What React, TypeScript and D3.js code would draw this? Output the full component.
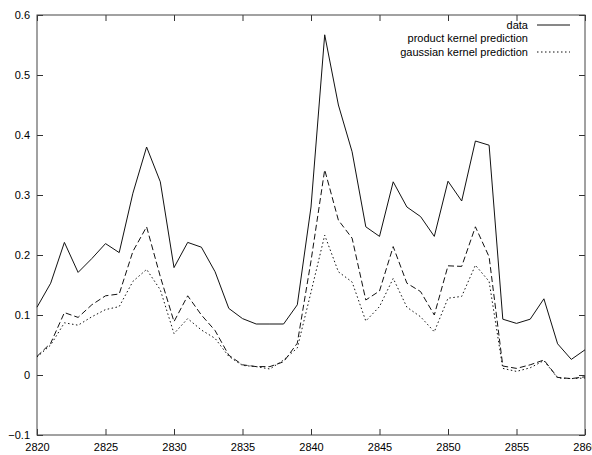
import React, {useRef, useEffect} from 'react'
import * as d3 from 'd3'

// x positions 2820..2860, one value per step
const xs: number[] = d3.range(2820, 2861)

const dataSeries: number[] = [
  0.113, 0.153, 0.221, 0.171, 0.194, 0.219, 0.204, 0.303, 0.38, 0.322,
  0.179, 0.221, 0.213, 0.172, 0.111, 0.094, 0.085, 0.085, 0.085, 0.117,
  0.28, 0.567, 0.45, 0.372, 0.247, 0.231, 0.322, 0.28, 0.264, 0.231,
  0.323, 0.29, 0.39, 0.383, 0.093, 0.086, 0.093, 0.127, 0.052, 0.026,
  0.042,
]

const productKernel: number[] = [
  0.031, 0.053, 0.104, 0.096, 0.117, 0.132, 0.135, 0.206, 0.247, 0.164,
  0.089, 0.132, 0.1, 0.074, 0.033, 0.017, 0.014, 0.014, 0.022, 0.053,
  0.19, 0.342, 0.258, 0.228, 0.125, 0.14, 0.214, 0.153, 0.139, 0.1,
  0.182, 0.181, 0.247, 0.197, 0.015, 0.011, 0.017, 0.025, -0.004, -0.006,
  -0.003,
]

const gaussianKernel: number[] = [
  0.03, 0.05, 0.087, 0.083, 0.097, 0.109, 0.114, 0.156, 0.176, 0.142,
  0.069, 0.094, 0.075, 0.061, 0.031, 0.016, 0.014, 0.01, 0.025, 0.045,
  0.138, 0.233, 0.172, 0.155, 0.09, 0.114, 0.161, 0.113, 0.097, 0.072,
  0.128, 0.131, 0.183, 0.156, 0.011, 0.006, 0.012, 0.024, -0.005, -0.006,
  -0.005,
]

const xTicks: number[] = [2820, 2825, 2830, 2835, 2840, 2845, 2850, 2855, 2860]
const yTicks: number[] = [-0.1, 0, 0.1, 0.2, 0.3, 0.4, 0.5, 0.6]

const legendLabels: string[] = ['data', 'product kernel prediction', 'gaussian kernel prediction']

const W = 592
const H = 455
const FONT = '"Liberation Sans", Arial, Helvetica, sans-serif'

function Chart() {
  const ref: any = useRef<SVGSVGElement>(null)

  useEffect(() => {
    const svg = d3.select(ref.current)
    svg.selectAll('*').remove()

    const x = d3.scaleLinear().domain([2820, 2860]).range([37, 585])
    const y = d3.scaleLinear().domain([-0.1, 0.6]).range([435, 15])

    const [x0, x1] = x.range()
    const [y0, y1] = y.range()

    // gnuplot style axes: inward ticks mirrored on all four sides
    const fmtY = (d: any) => (d === 0 ? '0' : d3.format('.1f')(d))

    const left = svg
      .append('g')
      .attr('transform', `translate(${x0},0)`)
      .call(d3.axisLeft(y).tickValues(yTicks).tickSize(-6).tickPadding(13).tickFormat(fmtY))
    const right = svg
      .append('g')
      .attr('transform', `translate(${x1},0)`)
      .call(d3.axisRight(y).tickValues(yTicks).tickSize(-6).tickFormat(() => ''))
    const bottom = svg
      .append('g')
      .attr('transform', `translate(0,${y0})`)
      .call(d3.axisBottom(x).tickValues(xTicks).tickSize(-6).tickPadding(8).tickFormat(d3.format('d')))
    const top = svg
      .append('g')
      .attr('transform', `translate(0,${y1})`)
      .call(d3.axisTop(x).tickValues(xTicks).tickSize(-6).tickFormat(() => ''))

    for (const g of [left, right, bottom, top]) {
      g.select('.domain').remove()
      g.selectAll('line').attr('stroke', '#333')
      g.selectAll('text').attr('font-family', FONT).attr('font-size', 11).attr('fill', '#000')
    }
    left.selectAll('text').attr('x', -7)

    svg
      .append('rect')
      .attr('x', x0)
      .attr('y', y1)
      .attr('width', x1 - x0)
      .attr('height', y0 - y1)
      .attr('fill', 'none')
      .attr('stroke', '#444')

    const line = d3
      .line<number>()
      .x((d, i) => x(xs[i]))
      .y((d) => y(d))

    const series = [
      {values: dataSeries, dash: null as string | null, sample: true},
      {values: productKernel, dash: '6,3', sample: false},
      {values: gaussianKernel, dash: '1.5,2.5', sample: true},
    ]

    svg
      .append('g')
      .selectAll('path')
      .data(series)
      .join('path')
      .attr('d', (s) => line(s.values))
      .attr('fill', 'none')
      .attr('stroke', '#111')
      .attr('stroke-width', 1)
      .attr('stroke-dasharray', (s) => s.dash)

    // legend, top right
    const lg = svg.append('g')
    legendLabels.forEach((label, i) => {
      const ly = 25 + i * 13.5
      lg.append('text')
        .attr('x', 528)
        .attr('y', ly)
        .attr('dy', '0.35em')
        .attr('text-anchor', 'end')
        .attr('font-family', FONT)
        .attr('font-size', 11)
        .text(label)
      if (series[i].sample) {
        lg.append('line')
          .attr('x1', 537)
          .attr('x2', 570)
          .attr('y1', ly)
          .attr('y2', ly)
          .attr('stroke', '#111')
          .attr('stroke-dasharray', series[i].dash)
      }
    })
  }, [])

  return (
    <svg
      ref={ref}
      width={W}
      height={H}
      style={{position: 'absolute', left: 0, top: 0, background: '#fff'}}
    />
  )
}

export default function App() {
  return <Chart />
}
